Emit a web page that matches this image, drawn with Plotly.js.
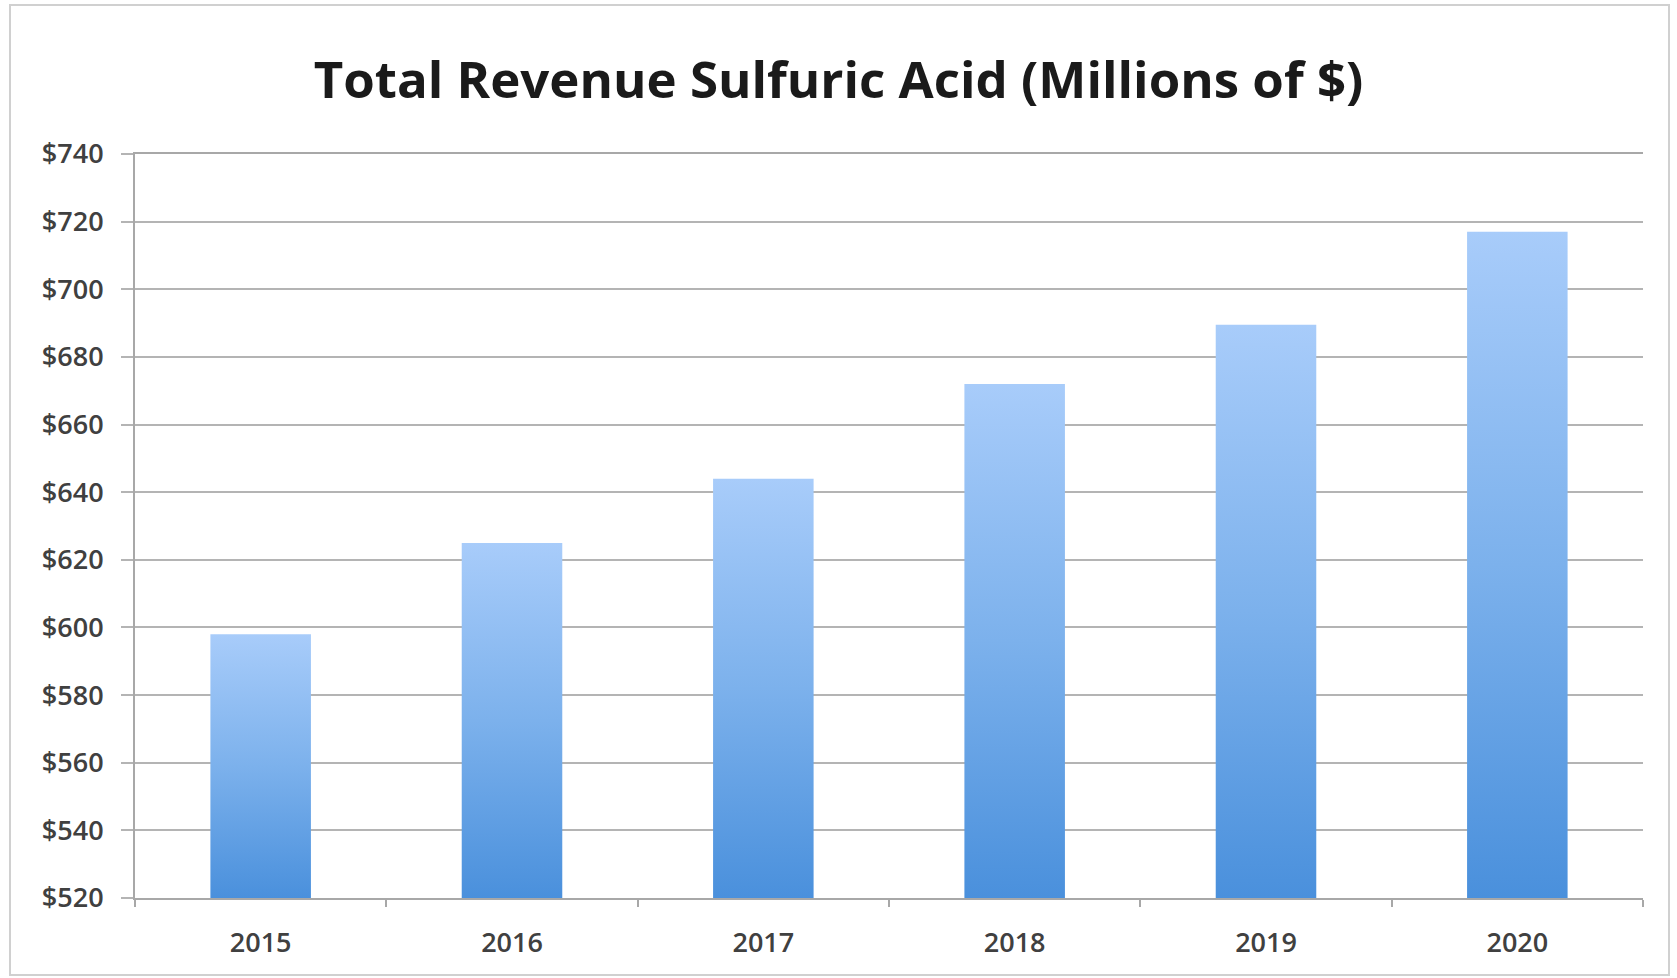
<!DOCTYPE html>
<html>
<head>
<meta charset="utf-8">
<script src="https://cdn.plot.ly/plotly-3.0.1.min.js"></script>
<style>
  html, body { margin: 0; padding: 0; background: #fff; }
  #chart { width: 1677px; height: 978px; }
</style>
</head>
<body>
<div id="chart"></div>
<script>
const years = ['2015', '2016', '2017', '2018', '2019', '2020'];
const revenue = [598, 625, 644, 672, 689.5, 717];
const yTickVals = [520, 540, 560, 580, 600, 620, 640, 660, 680, 700, 720, 740];
const titleText = 'Total Revenue Sulfuric Acid (Millions of $)';
const axisMin = 520;

const trace = {
  type: 'bar',
  x: years,
  y: revenue.map(v => v - axisMin),
  base: axisMin,
  marker: { color: '#78aeea', line: { width: 0 } },
  hoverinfo: 'x+y'
};

const layout = {
  width: 1677,
  height: 978,
  margin: { l: 135, r: 34, t: 154, b: 80 },
  paper_bgcolor: '#ffffff',
  plot_bgcolor: '#ffffff',
  bargap: 0.6,
  showlegend: false,
  title: {
    text: '<b>' + titleText + '</b>',
    font: { family: 'Open Sans, sans-serif', size: 51, color: '#1a1a1a' },
    x: 0.5, xref: 'container', xanchor: 'center',
    y: 1 - 80 / 978, yref: 'container', yanchor: 'middle'
  },
  xaxis: {
    type: 'category',
    showgrid: false,
    showline: true, linecolor: '#a8a8a8', linewidth: 2, mirror: true,
    ticks: 'outside', tickson: 'boundaries', ticklen: 7, tickcolor: '#a8a8a8', tickwidth: 2,
    ticklabelstandoff: 20,
    tickfont: { family: 'Open Sans, sans-serif', size: 27, weight: 600, color: '#404040' }
  },
  yaxis: {
    range: [520, 740],
    tickvals: yTickVals,
    ticktext: yTickVals.map(v => '$' + v),
    showgrid: true, gridcolor: '#b4b4b4', gridwidth: 2,
    showline: true, linecolor: '#a8a8a8', linewidth: 2,
    ticks: 'outside', ticklen: 12, tickcolor: '#b4b4b4', tickwidth: 2,
    ticklabelstandoff: 12,
    zeroline: false,
    tickfont: { family: 'Open Sans, sans-serif', size: 27, weight: 600, color: '#404040' }
  },
  shapes: [{
    type: 'rect', xref: 'paper', yref: 'paper',
    x0: (10 - 135) / 1508, x1: (1669 - 135) / 1508,
    y0: (898 - 975) / 744, y1: (898 - 5) / 744,
    line: { color: '#d0d0d0', width: 2 }, fillcolor: 'rgba(0,0,0,0)', layer: 'below'
  }]
};

Plotly.newPlot('chart', [trace], layout, { displayModeBar: false, staticPlot: true }).then(function (gd) {
  const svg = gd.querySelector('svg.main-svg');
  const ns = 'http://www.w3.org/2000/svg';
  let defs = svg.querySelector('defs');
  if (!defs) { defs = document.createElementNS(ns, 'defs'); svg.insertBefore(defs, svg.firstChild); }
  const grad = document.createElementNS(ns, 'linearGradient');
  grad.setAttribute('id', 'barGrad');
  grad.setAttribute('x1', '0'); grad.setAttribute('y1', '0');
  grad.setAttribute('x2', '0'); grad.setAttribute('y2', '1');
  [['0', '#a8ccfa'], ['0.5', '#7cb1ec'], ['1', '#4a90dc']].forEach(function (s) {
    const stop = document.createElementNS(ns, 'stop');
    stop.setAttribute('offset', s[0]);
    stop.setAttribute('stop-color', s[1]);
    grad.appendChild(stop);
  });
  defs.appendChild(grad);
  gd.querySelectorAll('.bars .point path').forEach(function (p) {
    p.style.fill = 'url(#barGrad)';
  });
});
</script>
</body>
</html>
